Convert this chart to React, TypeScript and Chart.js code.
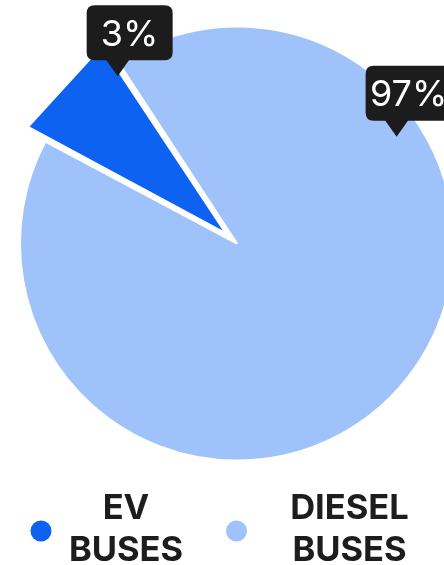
import React, { useEffect, useRef } from "react";
import { Chart, registerables } from "chart.js";

Chart.register(...registerables);

// ---- data ----
const categories: string[][] = [["EV", "BUSES"], ["DIESEL", "BUSES"]];
const sliceValues: number[] = [8, 92];
const shareLabels: string[] = ["3%", "97%"];
const sliceColors: string[] = ["#0E62F1", "#A0C2FB"];

const FONT = "Inter, 'Noto Sans', 'DejaVu Sans', sans-serif";

function roundRect(ctx: CanvasRenderingContext2D, x: number, y: number, w: number, h: number, r: number) {
  ctx.beginPath();
  ctx.moveTo(x + r, y);
  ctx.lineTo(x + w - r, y);
  ctx.quadraticCurveTo(x + w, y, x + w, y + r);
  ctx.lineTo(x + w, y + h - r);
  ctx.quadraticCurveTo(x + w, y + h, x + w - r, y + h);
  ctx.lineTo(x + r, y + h);
  ctx.quadraticCurveTo(x, y + h, x, y + h - r);
  ctx.lineTo(x, y + r);
  ctx.quadraticCurveTo(x, y, x + r, y);
  ctx.closePath();
}

const calloutPlugin = {
  id: "callouts",
  afterDatasetsDraw(chart: any, _args: any, opts: any) {
    const meta = chart.getDatasetMeta(0);
    const ctx: CanvasRenderingContext2D = chart.ctx;
    ctx.save();
    meta.data.forEach((arc: any, i: number) => {
      const p = arc.getProps(["x", "y", "startAngle", "endAngle", "outerRadius"], true);
      const a = p.startAngle + (p.endAngle - p.startAngle) * opts.angleFrac[i];
      const r = p.outerRadius * opts.radiusFrac[i];
      const tipX = p.x + Math.cos(a) * r;
      const tipY = p.y + Math.sin(a) * r;
      const bottom = tipY - opts.caretH;
      const top = bottom - opts.boxH;
      const left = tipX - opts.caretOffset;
      ctx.fillStyle = opts.bg;
      roundRect(ctx, left, top, opts.boxW, opts.boxH, opts.radius);
      ctx.fill();
      ctx.beginPath();
      ctx.moveTo(tipX - opts.caretW, bottom - 1);
      ctx.lineTo(tipX, tipY);
      ctx.lineTo(tipX + opts.caretW, bottom - 1);
      ctx.closePath();
      ctx.fill();
      ctx.fillStyle = "#ffffff";
      ctx.font = `400 ${opts.fontSize}px ${FONT}`;
      ctx.textAlign = "center";
      ctx.textBaseline = "alphabetic";
      ctx.fillText(shareLabels[i], left + opts.boxW / 2, top + opts.boxH / 2 + opts.fontSize * 0.727 / 2);
    });
    ctx.restore();
  },
};

const legendPlugin = {
  id: "legendCustom",
  afterDraw(chart: any, _args: any, opts: any) {
    const ctx: CanvasRenderingContext2D = chart.ctx;
    ctx.save();
    categories.forEach((lines, i) => {
      ctx.fillStyle = sliceColors[i];
      ctx.beginPath();
      ctx.arc(opts.dotX[i], opts.dotY, opts.dotR, 0, Math.PI * 2);
      ctx.fill();
      ctx.fillStyle = "#1d1d1d";
      ctx.font = `700 ${opts.fontSize}px ${FONT}`;
      ctx.textAlign = "center";
      ctx.textBaseline = "alphabetic";
      lines.forEach((ln, j) => {
        ctx.fillText(ln, opts.textX[i], opts.firstBaseline + j * opts.lineHeight);
      });
    });
    ctx.restore();
  },
};

export default function App() {
  const ref = useRef<HTMLCanvasElement | null>(null);
  useEffect(() => {
    document.body.style.margin = "0";
    if (!ref.current) return;
    const chart = new Chart(ref.current, {
      type: "pie",
      data: {
        labels: categories.map((c) => c.join(" ")),
        datasets: [
          {
            data: sliceValues,
            backgroundColor: sliceColors,
            borderColor: "#ffffff",
            borderWidth: 2,
            offset: [60, 0],
            circular: [false, true],
            radius: 217,
            rotation: 298,
          } as any,
        ],
      },
      options: {
        responsive: false,
        animation: false,
        events: [],
        layout: { padding: { left: 30, right: 0, top: 0, bottom: 78 } },
        plugins: {
          legend: { display: false },
          tooltip: { enabled: false },
          callouts: {
            angleFrac: [0.92, 0.27],
            radiusFrac: [0.947, 0.885],
            caretH: 16,
            caretW: 12,
            caretOffset: 31,
            boxW: 86,
            boxH: 55,
            radius: 8,
            bg: "#1c1c1c",
            fontSize: 36,
          },
          legendCustom: {
            dotX: [41, 236.5],
            dotY: 531,
            dotR: 10.5,
            textX: [126, 349.5],
            firstBaseline: 518.5,
            lineHeight: 42,
            fontSize: 34.5,
          },
        } as any,
      },
      plugins: [calloutPlugin, legendPlugin],
    });
    return () => chart.destroy();
  }, []);
  return (
    <div style={{ width: 444, height: 565, overflow: "hidden", position: "relative" }}>
      <canvas ref={ref} width={444} height={565} style={{ display: "block" }} />
    </div>
  );
}
